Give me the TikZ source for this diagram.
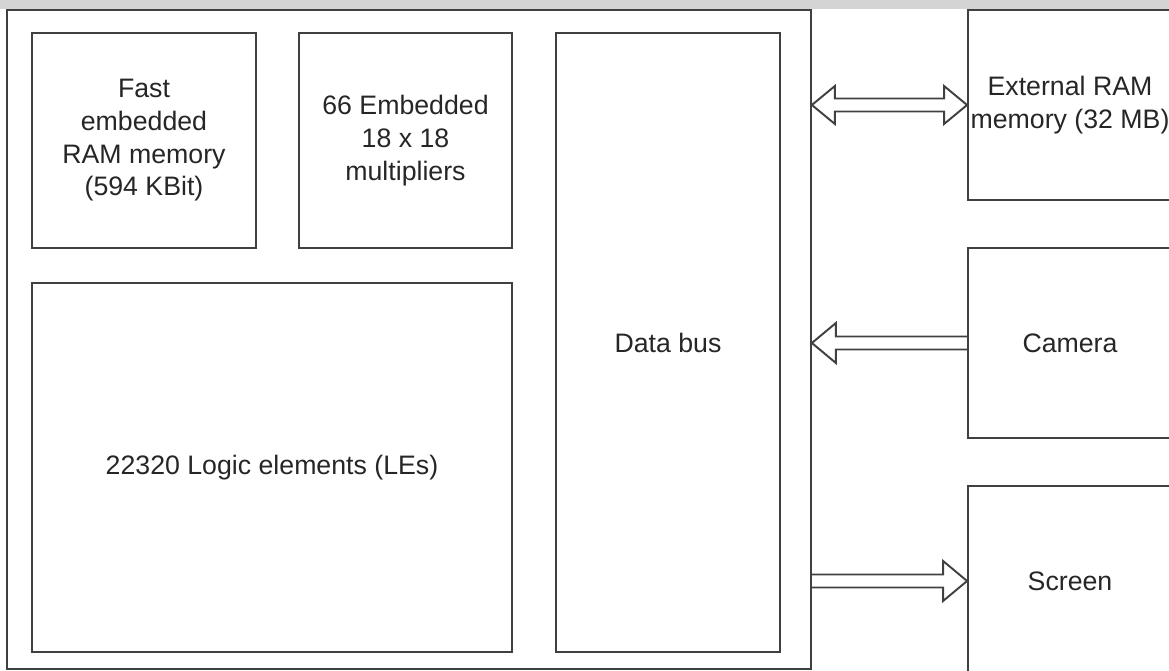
\documentclass[tikz,border=0pt]{standalone}
\usepackage{fontspec}
\setmainfont{Liberation Sans}
\usetikzlibrary{calc}
\tikzset{
  blk/.style={draw=black!75, line width=1.1pt, inner sep=0pt, align=center, text=black!85,
    font=\fontsize{15.2}{18.6}\selectfont},
  onearrow/.style={draw=black!75, line width=1.1pt, to path={
    let \p1=(\tikztostart), \p2=(\tikztotarget), \n1={sign(\x2-\x1)} in
    (\x1,\y1+0.13cm) -- (\x2-\n1*0.48cm,\y1+0.13cm) -- (\x2-\n1*0.48cm,\y1+0.4cm) -- (\x2,\y1)
    -- (\x2-\n1*0.48cm,\y1-0.4cm) -- (\x2-\n1*0.48cm,\y1-0.13cm) -- (\x1,\y1-0.13cm)}},
  twoarrow/.style={draw=black!75, line width=1.1pt, to path={
    let \p1=(\tikztostart), \p2=(\tikztotarget), \n1={sign(\x2-\x1)} in
    (\x1,\y1) -- (\x1+\n1*0.46cm,\y1+0.38cm) -- (\x1+\n1*0.46cm,\y1+0.13cm) -- (\x2-\n1*0.46cm,\y1+0.13cm)
    -- (\x2-\n1*0.46cm,\y1+0.38cm) -- (\x2,\y1) -- (\x2-\n1*0.46cm,\y1-0.38cm) -- (\x2-\n1*0.46cm,\y1-0.13cm)
    -- (\x1+\n1*0.46cm,\y1-0.13cm) -- (\x1+\n1*0.46cm,\y1-0.38cm) -- cycle}}
}
\begin{document}
\begin{tikzpicture}[x=0.02cm, y=-0.02cm]
\useasboundingbox (0,0) rectangle (1169,671);
\fill[black!17] (0,0) rectangle (1169,9);
\node[blk, minimum width=16.08cm, minimum height=13.18cm] (fpga) at (409,339.5){};
\node[blk, minimum width=4.48cm, minimum height=4.3cm] (ram) at (144,140.5){Fast\\embedded\\RAM memory\\(594 KBit)};
\node[blk, minimum width=4.26cm, minimum height=4.3cm] (mult) at (405.5,140.5){66 Embedded\\18 x 18\\multipliers};
\node[blk, minimum width=4.48cm, minimum height=12.38cm] (bus) at (668,342.5){Data bus};
\node[blk, minimum width=9.6cm, minimum height=7.38cm] (logic) at (272,467.5){22320 Logic elements (LEs)};
\node[blk, minimum width=4.08cm, minimum height=3.8cm] (extram) at (1070,105){External RAM\\memory (32 MB)};
\node[blk, minimum width=4.08cm, minimum height=3.8cm] (cam) at (1070,343){Camera};
\node[blk, minimum width=4.08cm, minimum height=3.8cm] (scr) at (1070,581){Screen};
\draw[twoarrow] (extram.west) to (fpga.east);
\draw[onearrow] (cam.west) to (fpga.east);
\draw[onearrow] (fpga.east |- scr.west) to (scr.west);
\end{tikzpicture}
\end{document}
